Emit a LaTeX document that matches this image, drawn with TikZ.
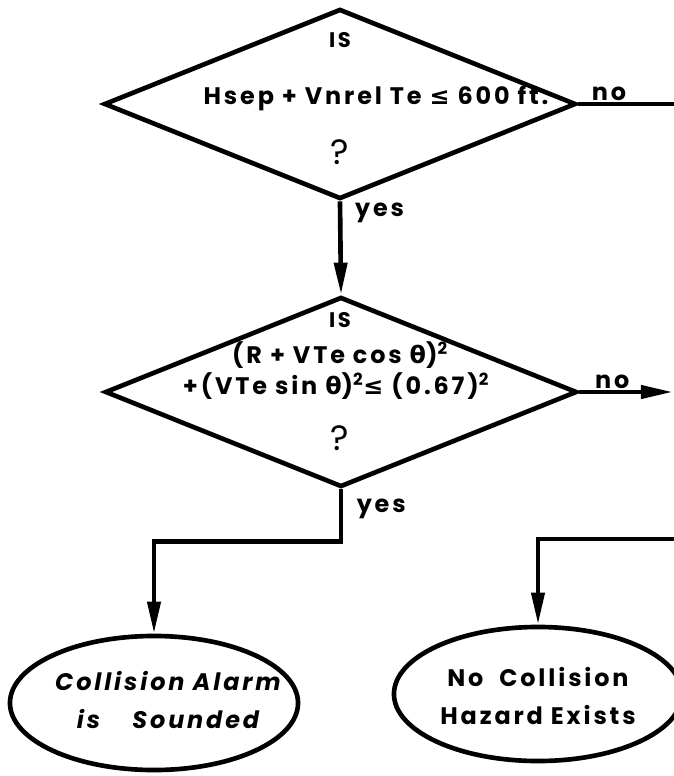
\documentclass[tikz,border=0pt]{standalone}
\usepackage{fontspec}
\setmainfont{Poppins}[LetterSpace=12]
\newfontfamily\symfont{DejaVu Sans}[LetterSpace=12]
\usetikzlibrary{arrows.meta,positioning,shapes.geometric}
\newcommand{\sq}{\textsuperscript{2}}
\tikzset{
  decision/.style={draw,diamond,line width=3.3pt,inner sep=0pt,minimum width=11.8cm,minimum height=4.75cm},
  outcome/.style={draw,ellipse,line width=3.3pt,inner sep=0pt,minimum width=7.2cm,minimum height=3.35cm},
  txt/.style={font=\fontsize{17}{22}\selectfont\bfseries,inner sep=1pt,align=center},
  small/.style={font=\fontsize{15}{18}\selectfont\bfseries,inner sep=1pt},
  query/.style={font=\fontsize{25}{28}\selectfont,inner sep=1pt},
  lbl/.style={font=\fontsize{17}{22}\selectfont\bfseries,inner sep=1pt},
  flow/.style={line width=3.3pt,-{Triangle[length=8mm,width=3.2mm]}},
  plain/.style={line width=3.3pt},
}

\begin{document}
\begin{tikzpicture}[x=0.025cm,y=-0.025cm]
  \useasboundingbox (0,0) rectangle (673,776);
  % the two tests
  \node[decision] (d1) at (340,104) {};
  \node[decision] (d2) at (341,392) {};
  \node[small] (d1is) at (340,40) {IS};
  \node[txt] (d1q) at (376,98) {Hsep + Vnrel Te {\symfont ≤} 600 ft.};
  \node[query] (d1m) at (340,152) {?};
  \node[small] (d2is) at (340,320) {IS};
  \node[txt] (d2a) at (340,355) {(R + VTe cos {\symfont θ})\sq};
  \node[txt] (d2b) at (336,386) {+(VTe sin {\symfont θ})\sq{\symfont ≤} (0.67)\sq};
  \node[query] (d2m) at (340,438) {?};
  % outcomes
  \node[outcome] (e1) at (154,703) {};
  \node[outcome] (e2) at (538,694) {};
  \node[txt,font=\fontsize{17}{27}\selectfont\bfseries\itshape] (e1t) at (168,700) {Collision Alarm\\is \quad Sounded};
  \node[txt,font=\fontsize{17}{27}\selectfont\bfseries] (e2t) at (538,696) {No \ Collision\\Hazard Exists};
  % free ends past the right margin
  \coordinate (o1) at (680,104);
  \coordinate (o2) at (673,392);
  \coordinate (o3) at (680,539);
  % connectors
  \draw[plain] (d1.east) -- node[lbl,above,pos=.3] {no} (o1);
  \draw[flow] (d1.south) -- node[lbl,right,pos=.12,xshift=8pt] {yes} (d2.north);
  \draw[flow] (d2.east) -- node[lbl,above,pos=.35] {no} (o2);
  \draw[flow] (d2.south) -- ++(0,52) -| (e1.north);
  \node[lbl,right=10pt of d2.south,yshift=-14pt] (y2) {yes};
  \draw[flow] (o3) -| (e2.north);
\end{tikzpicture}
\end{document}
